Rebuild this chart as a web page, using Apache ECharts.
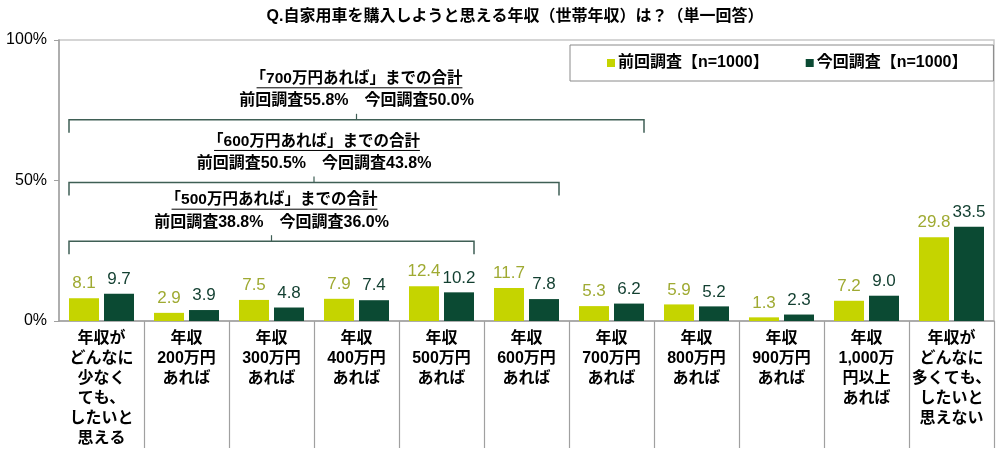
<!DOCTYPE html>
<html>
<head>
<meta charset="utf-8">
<script src="https://cdn.jsdelivr.net/npm/echarts@6/dist/echarts.min.js"></script>
<style>
html,body{margin:0;padding:0;background:#fff;}
#c{width:1000px;height:449px;}
</style>
</head>
<body>
<div id="c"></div>
<script>
// ---- data ----
const titleText = 'Q.自家用車を購入しようと思える年収（世帯年収）は？（単一回答）';
const categories = [
  '年収が\nどんなに\n少なく\nても、\nしたいと\n思える',
  '年収\n200万円\nあれば',
  '年収\n300万円\nあれば',
  '年収\n400万円\nあれば',
  '年収\n500万円\nあれば',
  '年収\n600万円\nあれば',
  '年収\n700万円\nあれば',
  '年収\n800万円\nあれば',
  '年収\n900万円\nあれば',
  '年収\n1,000万\n円以上\nあれば',
  '年収が\nどんなに\n多くても、\nしたいと\n思えない'
];
const seriesNames = ['前回調査【n=1000】', '今回調査【n=1000】'];
const prevValues = [8.1, 2.9, 7.5, 7.9, 12.4, 11.7, 5.3, 5.9, 1.3, 7.2, 29.8];
const currValues = [9.7, 3.9, 4.8, 7.4, 10.2, 7.8, 6.2, 5.2, 2.3, 9.0, 33.5];
const yTickValues = [0, 50, 100];
const bracketTitles = ['「500万円あれば」までの合計', '「600万円あれば」までの合計', '「700万円あれば」までの合計'];
const bracketEndIndex = [4, 5, 6];
const bracketPrevTotals = [38.8, 50.5, 55.8];
const bracketCurrTotals = [36.0, 43.8, 50.0];

// ---- layout / style ----
const FONT = '"Liberation Sans", "Noto Sans CJK JP", sans-serif';
const bracketLevels = [28.4, 49.3, 71.6];
const BAR_W = 30, BAR_GAP_PX = 5;
const lightColor = '#c5d400', darkColor = '#0b4a33';
const lineColor = '#3f5f55';

const measureCtx = document.createElement('canvas').getContext('2d');
function textWidth(str, font) { measureCtx.font = font; return measureCtx.measureText(str).width; }

const chart = echarts.init(document.getElementById('c'));
const bracketData = bracketEndIndex.map((e, i) => [e, bracketLevels[i], i]);

chart.setOption({
  animation: false,
  graphic: [{
    type: 'text', x: 515, y: 17,
    style: { text: titleText, font: 'bold 16px ' + FONT, fill: '#000', align: 'center', verticalAlign: 'middle' }
  }],
  legend: {
    data: seriesNames,
    left: 570, top: 45, width: 520,
    padding: [10, 26, 10, 37],
    itemGap: 37,
    itemWidth: 8, itemHeight: 8,
    icon: 'rect',
    borderColor: '#8a8a8a', borderWidth: 1,
    textStyle: { fontFamily: FONT, fontWeight: 'bold', fontSize: 16, color: '#000', padding: [0, 0, 0, -2] }
  },
  grid: { left: 59, right: 6, top: 40, bottom: 127, show: true, borderColor: '#c8c8c8', borderWidth: 1.5, containLabel: false },
  xAxis: {
    type: 'category',
    data: categories,
    axisLine: { show: true, lineStyle: { color: '#a0a0a0', width: 1.5 } },
    axisTick: { show: true, length: 127, lineStyle: { color: '#a0a0a0', width: 1.2 }, interval: function (i) { return i > 0; } },
    axisLabel: { interval: 0, margin: 8, fontFamily: FONT, fontWeight: 'bold', fontSize: 16, lineHeight: 20, color: '#000', verticalAlign: 'top' }
  },
  yAxis: {
    type: 'value', min: yTickValues[0], max: yTickValues[yTickValues.length - 1], interval: yTickValues[1] - yTickValues[0],
    splitLine: { show: false },
    axisLine: { show: true, lineStyle: { color: '#a0a0a0', width: 1.5 } },
    axisTick: { show: true, length: 5, lineStyle: { color: '#a0a0a0' } },
    axisLabel: { formatter: '{value}%', fontFamily: FONT, fontSize: 16, color: '#000', margin: 12 }
  },
  series: [
    {
      name: seriesNames[0], type: 'bar', data: prevValues,
      barWidth: BAR_W, barGap: (BAR_GAP_PX / BAR_W * 100) + '%',
      itemStyle: { color: lightColor },
      label: { show: true, position: 'top', distance: 6, formatter: p => p.value.toFixed(1), fontFamily: FONT, fontSize: 17, color: '#9faa32' }
    },
    {
      name: seriesNames[1], type: 'bar', data: currValues,
      barWidth: BAR_W,
      itemStyle: { color: darkColor },
      label: { show: true, position: 'top', distance: 6, formatter: p => p.value.toFixed(1), fontFamily: FONT, fontSize: 17, color: '#123f30' }
    },
    {
      type: 'custom',
      data: bracketData,
      z: 5,
      silent: true,
      renderItem: function (params, api) {
        const endIdx = api.value(0), lvl = api.value(1), k = api.value(2);
        const band = api.size([1, 0])[0];
        const pad = (band - 2 * BAR_W - BAR_GAP_PX) / 2;
        const p0 = api.coord([0, lvl]);
        const p1 = api.coord([endIdx, lvl]);
        const x0 = p0[0] - band / 2 + pad;
        const x1 = p1[0] + band / 2 - pad;
        const y = p0[1];
        const xc = (x0 + x1) / 2;
        const f1 = 'bold 15.5px ' + FONT;
        const f2 = 'bold 16px ' + FONT;
        const t1 = bracketTitles[k];
        const t2 = '前回調査' + bracketPrevTotals[k].toFixed(1) + '%　今回調査' + bracketCurrTotals[k].toFixed(1) + '%';
        const w1 = textWidth(t1, f1);
        return {
          type: 'group',
          children: [
            { type: 'polyline', shape: { points: [[x0, y + 13], [x0, y], [x1, y], [x1, y + 13]] }, style: { stroke: lineColor, lineWidth: 1.5, fill: null } },
            { type: 'line', shape: { x1: xc, y1: y, x2: xc, y2: y - 6 }, style: { stroke: lineColor, lineWidth: 1.2 } },
            { type: 'text', style: { text: t1, x: xc, y: y - 41, align: 'center', verticalAlign: 'middle', font: f1, fill: '#000' } },
            { type: 'line', shape: { x1: xc - w1 / 2 + 6, y1: y - 32, x2: xc + w1 / 2, y2: y - 32 }, style: { stroke: '#000', lineWidth: 1 } },
            { type: 'text', style: { text: t2, x: xc, y: y - 19, align: 'center', verticalAlign: 'middle', font: f2, fill: '#000' } }
          ]
        };
      }
    }
  ]
});
</script>
</body>
</html>
